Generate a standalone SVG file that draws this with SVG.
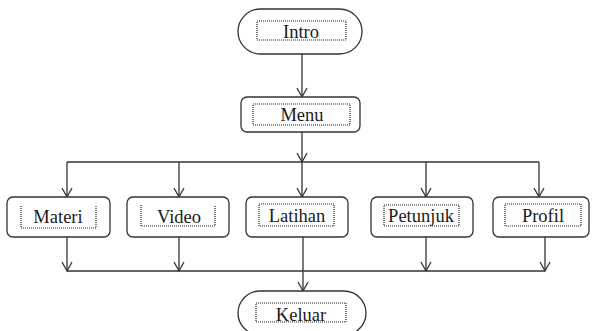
<svg xmlns="http://www.w3.org/2000/svg" width="592" height="331" viewBox="0 0 592 331">
<style>
.box{fill:#fff;stroke:#333;stroke-width:1.3}
.dot{fill:none;stroke:#222;stroke-width:1.2;stroke-dasharray:1 1}
.lbl{font-family:"Liberation Serif","Times New Roman",serif;font-size:18.5px;fill:#1a1a1a;text-anchor:middle}
.ln{fill:none;stroke:#333;stroke-width:1.3}
</style>
<defs>
<marker id="arr" markerWidth="12" markerHeight="12" refX="10" refY="6" orient="auto" markerUnits="userSpaceOnUse">
<path d="M1,1 L10,6 L1,11" fill="none" stroke="#333" stroke-width="1.3"/>
</marker>
</defs>
<g id="connectors">
<line class="ln" x1="302" y1="54" x2="302" y2="97" marker-end="url(#arr)"/>
<line class="ln" x1="302" y1="132" x2="302" y2="162" marker-end="url(#arr)"/>
<line class="ln" x1="67" y1="162" x2="539" y2="162"/>
<line class="ln" x1="67" y1="162" x2="67" y2="197" marker-end="url(#arr)"/>
<line class="ln" x1="179" y1="162" x2="179" y2="197" marker-end="url(#arr)"/>
<line class="ln" x1="302" y1="162" x2="302" y2="197" marker-end="url(#arr)"/>
<line class="ln" x1="426" y1="162" x2="426" y2="197" marker-end="url(#arr)"/>
<line class="ln" x1="539" y1="162" x2="539" y2="197" marker-end="url(#arr)"/>
<line class="ln" x1="67" y1="237" x2="67" y2="271" marker-end="url(#arr)"/>
<line class="ln" x1="179" y1="237" x2="179" y2="271" marker-end="url(#arr)"/>
<line class="ln" x1="426" y1="237" x2="426" y2="271" marker-end="url(#arr)"/>
<line class="ln" x1="545" y1="237" x2="545" y2="271" marker-end="url(#arr)"/>
<line class="ln" x1="67" y1="271" x2="545" y2="271"/>
<line class="ln" x1="303" y1="237" x2="303" y2="291" marker-end="url(#arr)"/>
</g>
<g id="intro">
<rect class="box" x="238" y="9" width="124" height="45" rx="22.5"/>
<rect class="dot" x="257" y="21" width="89" height="19"/>
<text class="lbl" x="301" y="38">Intro</text>
</g>
<g id="menu">
<rect class="box" x="241" y="97" width="119" height="35" rx="6"/>
<rect class="dot" x="253" y="104" width="97" height="21"/>
<text class="lbl" x="302" y="121">Menu</text>
</g>
<g id="materi">
<rect class="box" x="7" y="197" width="103" height="40" rx="6"/>
<path class="dot" d="M21,206 V228 H96 V206"/>
<text class="lbl" x="58" y="223">Materi</text>
</g>
<g id="video">
<rect class="box" x="127" y="197" width="102" height="40" rx="6"/>
<path class="dot" d="M141,205 V226 H215 V205"/>
<text class="lbl" x="179" y="223">Video</text>
</g>
<g id="latihan">
<rect class="box" x="246" y="197" width="102" height="40" rx="6"/>
<rect class="dot" x="259" y="204" width="75" height="22"/>
<text class="lbl" x="297" y="222">Latihan</text>
</g>
<g id="petunjuk">
<rect class="box" x="371" y="197" width="102" height="40" rx="6"/>
<rect class="dot" x="384" y="205" width="75" height="21"/>
<text class="lbl" x="421" y="222">Petunjuk</text>
</g>
<g id="profil">
<rect class="box" x="493" y="197" width="96" height="40" rx="6"/>
<rect class="dot" x="505" y="204" width="76" height="22"/>
<text class="lbl" x="543" y="222">Profil</text>
</g>
<g id="keluar">
<rect class="box" x="238" y="291" width="128" height="44" rx="22"/>
<rect class="dot" x="256" y="303" width="90" height="19"/>
<text class="lbl" x="301" y="321">Keluar</text>
</g>
</svg>
